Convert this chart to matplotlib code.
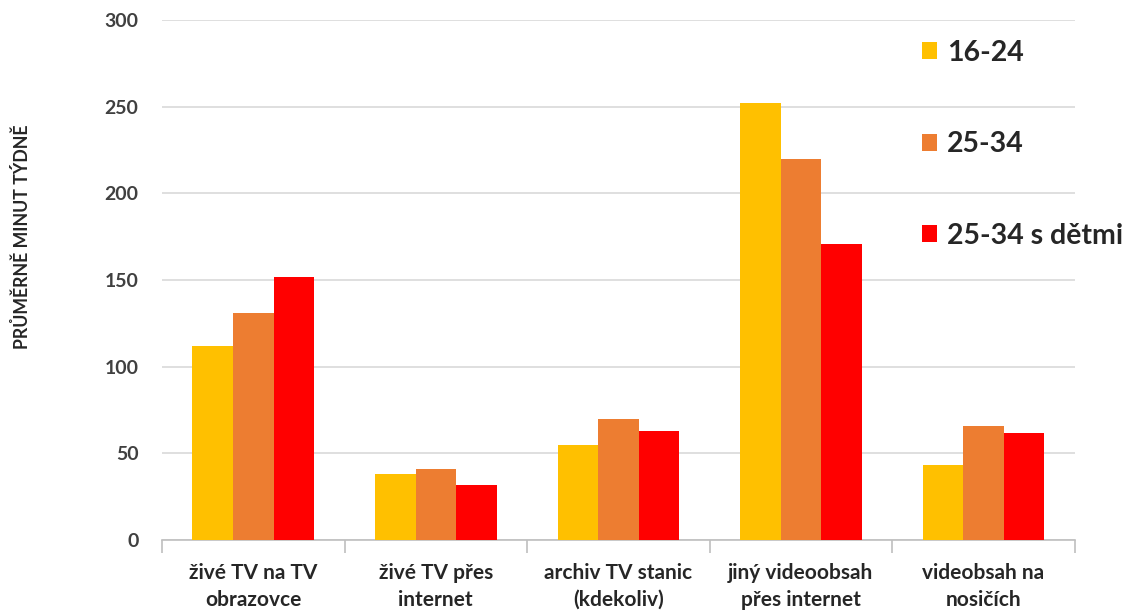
import numpy as np
import matplotlib
matplotlib.use("Agg")
import matplotlib.pyplot as plt

# data
categories = ["živé TV na TV\nobrazovce", "živé TV přes\ninternet", "archiv TV stanic\n(kdekoliv)",
              "jiný videoobsah\npřes internet", "videobsah na\nnosičích"]
series_names = ["16-24", "25-34", "25-34 s dětmi"]
vals_16_24 = [112, 38, 55, 252, 43]
vals_25_34 = [131, 41, 70, 220, 66]
vals_25_34_deti = [152, 32, 63, 171, 62]
colors = ["#FFC000", "#ED7D31", "#FF0000"]
yticks = [0, 50, 100, 150, 200, 250, 300]

plt.rcParams['font.family'] = ['Lato', 'DejaVu Sans']

fig = plt.figure(figsize=[11.36, 6.14], dpi=100)
ax = fig.add_axes([0.1426, 0.1205, 0.8034, 0.8469])

x = np.arange(len(categories))
w = 0.222
for i, (vals, name) in enumerate(zip([vals_16_24, vals_25_34, vals_25_34_deti], series_names)):
    ax.bar(x + (i - 1) * w, vals, width=w, color=colors[i], label=name, zorder=3)

ax.set_xlim(-0.5, len(categories) - 0.5)
ax.set_ylim(0, 300)
ax.set_yticks(yticks)
ax.set_yticklabels([str(t) for t in yticks], fontsize=14, fontweight='bold', color='#404040')
ax.yaxis.grid(True, color='#D9D9D9', linewidth=1.2, zorder=0)
ax.tick_params(axis='y', length=0, pad=17)

ax.set_xticks(x)
ax.set_xticklabels(categories, fontsize=15, fontweight='bold', color='#262626', linespacing=1.45)
ax.set_xticks(np.arange(-0.5, len(categories)), minor=True)
ax.tick_params(axis='x', which='major', length=0, pad=16.5)
ax.tick_params(axis='x', which='minor', length=9, color='#BFBFBF', width=1.2)

for s in ['top', 'right', 'left']:
    ax.spines[s].set_visible(False)
ax.spines['bottom'].set_color('#BFBFBF')
ax.spines['bottom'].set_linewidth(1.2)

fig.text(22 / 1136, 1 - 237 / 614, "PRŮMĚRNĚ MINUT TÝDNĚ", rotation=90, ha='center', va='center',
         fontsize=12.8, fontweight='bold', color='#262626')

leg = ax.legend(loc='upper left', bbox_to_anchor=(922 / 1136, 1 - 40 / 614), bbox_transform=fig.transFigure,
                frameon=False, prop={'size': 20.5, 'weight': 'bold'}, labelspacing=2.3,
                borderaxespad=0, borderpad=0,
                handlelength=0.54, handleheight=0.54, handletextpad=0.33)
for t in leg.get_texts():
    t.set_color('#262626')

fig.savefig("out.png", dpi=100)
